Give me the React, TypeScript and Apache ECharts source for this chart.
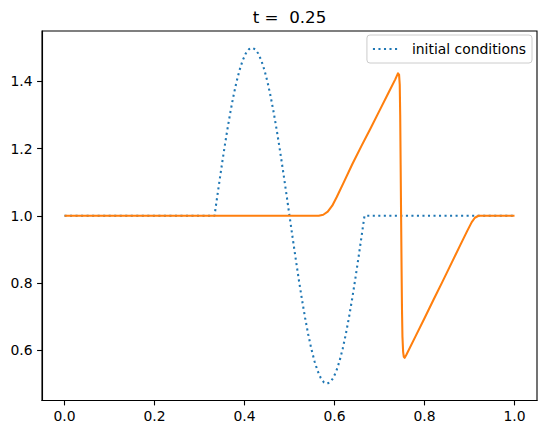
import React, { useEffect, useRef } from 'react';
import * as echarts from 'echarts';

const xTicks = [0, 0.2, 0.4, 0.6, 0.8, 1.0];
const yTicks = [0.6, 0.8, 1.0, 1.2, 1.4];
const titleText = 't =  0.25';
const legendLabel = 'initial conditions';

const initX = [
  0, 0.33333, 0.34028, 0.34722, 0.35417, 0.36111, 0.36806, 0.375, 0.38194, 0.38889,
  0.39583, 0.40278, 0.40972, 0.41667, 0.42361, 0.43056, 0.4375, 0.44444, 0.45139,
  0.45833, 0.46528, 0.47222, 0.47917, 0.48611, 0.49306, 0.5, 0.50694, 0.51389,
  0.52083, 0.52778, 0.53472, 0.54167, 0.54861, 0.55556, 0.5625, 0.56944, 0.57639,
  0.58333, 0.59028, 0.59722, 0.60417, 0.61111, 0.61806, 0.625, 0.63194, 0.63889,
  0.64583, 0.65278, 0.65972, 0.66667, 1.0,
];
const initY = [
  1.0, 1.0, 1.0653, 1.1294, 1.1913, 1.25, 1.3044, 1.3536, 1.3967, 1.433, 1.4619,
  1.483, 1.4957, 1.5, 1.4957, 1.483, 1.4619, 1.433, 1.3967, 1.3536, 1.3044, 1.25,
  1.1913, 1.1294, 1.0653, 1.0, 0.9347, 0.8706, 0.8087, 0.75, 0.6956, 0.6464, 0.6033,
  0.567, 0.5381, 0.517, 0.5043, 0.5, 0.5043, 0.517, 0.5381, 0.567, 0.6033, 0.6464,
  0.6956, 0.75, 0.8087, 0.8706, 0.9347, 1.0, 1.0,
];

const solX = [
  0, 0.55, 0.565, 0.575, 0.585, 0.595, 0.605, 0.62, 0.64, 0.66, 0.68, 0.7, 0.72,
  0.735, 0.741, 0.7435, 0.745, 0.746, 0.747, 0.748, 0.749, 0.75, 0.751, 0.7525,
  0.754, 0.756, 0.76, 0.78, 0.8, 0.82, 0.84, 0.86, 0.88, 0.895, 0.905, 0.912, 0.92, 1.0,
];
const solY = [
  1.0, 1.0, 1.0, 1.003, 1.012, 1.03, 1.056, 1.098, 1.155, 1.208, 1.26, 1.313, 1.366,
  1.406, 1.424, 1.42, 1.39, 1.3, 1.15, 1.0, 0.85, 0.72, 0.64, 0.595, 0.58, 0.577,
  0.587, 0.641, 0.695, 0.75, 0.804, 0.859, 0.914, 0.955, 0.981, 0.994, 1.0, 1.0,
];

const FONT = 'DejaVu Sans';

export default function App() {
  const ref = useRef<HTMLDivElement>(null);
  useEffect(() => {
    if (!ref.current) return;
    const chart = echarts.init(ref.current, null, { renderer: 'svg' });
    const initData = initX.map((x, i) => [x, initY[i]]);
    const solData = solX.map((x, i) => [x, solY[i]]);
    const axisCommon = {
      type: 'value' as const,
      splitLine: { show: false },
    };
    chart.setOption({
      animation: false,
      backgroundColor: '#ffffff',
      grid: {
        left: 42,
        top: 31,
        width: 495,
        height: 369.5,
        show: true,
        borderColor: '#000',
        borderWidth: 1.1,
        backgroundColor: 'transparent',
      },
      xAxis: {
        ...axisCommon,
        min: -0.05,
        max: 1.05,
        axisLine: { show: true, onZero: false, lineStyle: { color: '#000', width: 1.1 } },
        axisTick: {
          show: true,
          length: 4.9,
          inside: false,
          customValues: xTicks,
          lineStyle: { color: '#000', width: 1.1 },
        },
        axisLabel: {
          customValues: xTicks,
          formatter: (v: number) => v.toFixed(1),
          color: '#000',
          fontSize: 13.9,
          fontFamily: FONT,
          margin: 8,
        },
      },
      yAxis: {
        ...axisCommon,
        min: 0.45,
        max: 1.55,
        axisLine: { show: true, onZero: false, lineStyle: { color: '#000', width: 1.1 } },
        axisTick: {
          show: true,
          length: 4.9,
          inside: false,
          customValues: yTicks,
          lineStyle: { color: '#000', width: 1.1 },
        },
        axisLabel: {
          customValues: yTicks,
          formatter: (v: number) => v.toFixed(1),
          color: '#000',
          fontSize: 13.9,
          fontFamily: FONT,
          margin: 9.5,
        },
      },
      legend: {
        data: [legendLabel],
        right: 15,
        top: 35,
        orient: 'vertical',
        padding: [7, 6, 7, 5],
        itemWidth: 27,
        itemHeight: 14,
        backgroundColor: 'rgba(255,255,255,0.8)',
        borderColor: '#cccccc',
        borderWidth: 1,
        borderRadius: 3,
        itemStyle: {
          color: 'transparent',
          borderColor: 'transparent',
          borderWidth: 0,
          opacity: 0,
        },
        textStyle: {
          color: '#000',
          fontSize: 13.9,
          fontFamily: FONT,
          padding: [0, 0, 0, 7],
        },
      },
      graphic: [
        {
          type: 'text',
          x: 289.5,
          y: 17,
          style: {
            text: titleText,
            fill: '#000',
            fontSize: 16.7,
            fontFamily: FONT,
            align: 'center',
            verticalAlign: 'middle',
          },
        },
      ],
      series: [
        {
          type: 'line',
          name: legendLabel,
          data: initData,
          symbol: 'none',
          showSymbol: false,
          itemStyle: { color: '#1f77b4' },
          lineStyle: { color: '#1f77b4', width: 2.08, type: [2.08, 3.44], cap: 'butt' },
          z: 2,
        },
        {
          type: 'line',
          name: 'solution',
          data: solData,
          symbol: 'none',
          showSymbol: false,
          itemStyle: { color: '#ff7f0e' },
          lineStyle: { color: '#ff7f0e', width: 2.08, cap: 'butt', join: 'round' },
          z: 3,
        },
      ],
    });
    return () => chart.dispose();
  }, []);
  return (
    <div
      ref={ref}
      style={{ position: 'fixed', left: 0, top: 0, width: 547, height: 434 }}
    />
  );
}
